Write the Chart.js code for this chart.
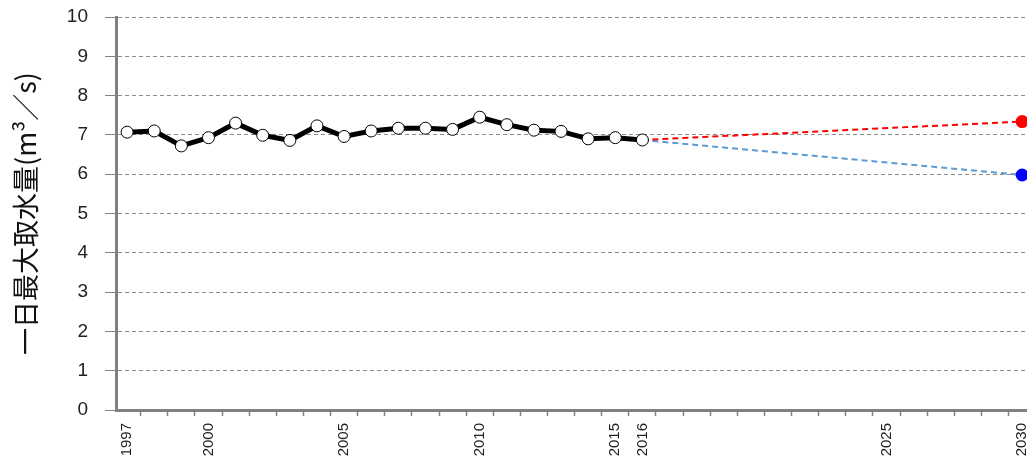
<!DOCTYPE html>
<html>
<head>
<meta charset="utf-8">
<script src="https://cdn.jsdelivr.net/npm/chart.js@4/dist/chart.umd.min.js"></script>
<style>
  html, body { margin: 0; padding: 0; background: #fff; }
  #wrap { width: 1027px; height: 465px; }
</style>
</head>
<body>
<div id="wrap"><canvas id="mycanvas"></canvas></div>
<script>
// actual values 1997-2016
var years = [1997,1998,1999,2000,2001,2002,2003,2004,2005,2006,2007,2008,2009,2010,2011,2012,2013,2014,2015,2016];
var intake = [7.07,7.10,6.72,6.93,7.30,6.99,6.86,7.23,6.96,7.10,7.17,7.17,7.14,7.45,7.26,7.12,7.09,6.90,6.93,6.87];

// projection to 2030
var projYears = [2016, 2030];
var projHigh = [6.87, 7.34];
var projLow = [6.87, 5.98];

var yTicks = [0,1,2,3,4,5,6,7,8,9,10];
var xLabelYears = [1997, 2000, 2005, 2010, 2015, 2016, 2025, 2030];

function toPoints(xs, ys) {
  var out = [];
  for (var i in xs) out.push({x: xs[i], y: ys[i]});
  return out;
}

var chartdata = {
  datasets: [
    {
      label: "actual",
      data: toPoints(years, intake),
      borderColor: "#000000",
      borderWidth: 5,
      lineTension: 0,
      pointRadius: 6,
      pointBorderWidth: 1,
      pointBackgroundColor: "#ffffff",
      pointBorderColor: "#000000",
      order: 0
    },
    {
      label: "high",
      data: toPoints(projYears, projHigh),
      borderColor: "#ff0000",
      borderWidth: 2,
      borderDash: [6, 4],
      lineTension: 0,
      pointRadius: [0, 5.5],
      pointBackgroundColor: "#ff0000",
      pointBorderColor: "#ff0000",
      clip: false,
      order: 1
    },
    {
      label: "low",
      data: toPoints(projYears, projLow),
      borderColor: "#5b9bd5",
      borderWidth: 2,
      borderDash: [6, 4],
      lineTension: 0,
      pointRadius: [0, 5.5],
      pointBackgroundColor: "#0000ff",
      pointBorderColor: "#0000ff",
      clip: false,
      order: 1
    }
  ]
};

var ctx = document.getElementById("mycanvas");

var LineGraph = new Chart(ctx, {
  type: 'line',
  data: chartdata,
  options: {
    responsive: true,
    maintainAspectRatio: false,
    animation: { duration: 0 },
    layout: { autoPadding: false, padding: { top: 17, right: 0, left: 0, bottom: 0 } },
    plugins: {
      legend: { display: false },
      tooltip: { enabled: false }
    },
    scales: {
      x: {
        type: 'linear',
        min: 1996.59,
        max: 2030.18,
        afterBuildTicks: function(scale) {
          var t = [];
          for (var y = 1997; y <= 2030; y++) t.push({value: y});
          scale.ticks = t;
        },
        afterFit: function(scale) {
          scale.height = 55;
          scale.paddingLeft = 0;
          scale.paddingRight = 0;
        },
        grid: {
          offset: true,
          drawOnChartArea: false,
          tickLength: 6,
          tickColor: "#808080",
          tickWidth: 1.5
        },
        border: { color: "#808080", width: 3 },
        ticks: {
          autoSkip: false,
          minRotation: 90,
          maxRotation: 90,
          padding: 7,
          color: "#222",
          font: { family: "Liberation Sans", size: 15 },
          callback: function(v) {
            return xLabelYears.indexOf(v) >= 0 ? String(v) : '';
          }
        }
      },
      y: {
        min: 0,
        max: 10,
        afterBuildTicks: function(scale) {
          scale.ticks = yTicks.map(function(v) { return {value: v}; });
        },
        afterFit: function(scale) {
          scale.width = 116;
          scale.paddingTop = 0;
          scale.paddingBottom = 0;
        },
        grid: {
          color: "#8c8c8c",
          lineWidth: 1,
          tickLength: 11,
          tickColor: "#808080",
          tickWidth: 1
        },
        border: { color: "#808080", width: 3, dash: [4, 3] },
        ticks: {
          padding: 17,
          color: "#222",
          font: { family: "Liberation Sans", size: 19 }
        },
        title: {
          display: true,
          text: "一日最大取水量(m³／s)",
          color: "#111",
          padding: { top: 10, bottom: 0 },
          font: { family: "Noto Sans CJK JP", size: 27 }
        }
      }
    }
  }
});
</script>
</body>
</html>
